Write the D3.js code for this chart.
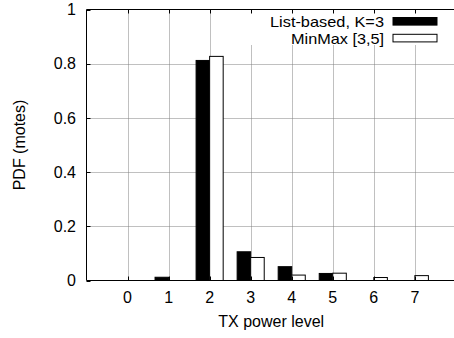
<!DOCTYPE html>
<html>
<head>
<meta charset="utf-8">
<script src="https://cdn.jsdelivr.net/npm/d3@7"></script>
<style>
  html, body { margin: 0; padding: 0; background: #fff; }
  svg { display: block; }
  text { font-family: "Liberation Sans", Arial, Helvetica, sans-serif; font-size: 16px; fill: #000; }
  .key text { font-size: 15px; }
</style>
</head>
<body>
<svg id="chart" width="454" height="338"></svg>
<script>
// TX power levels on the x axis
const levels = [0, 1, 2, 3, 4, 5, 6, 7];
// Fraction of motes at each power level, per scheme
const listBased = [0, 0.012, 0.812, 0.106, 0.051, 0.026, 0, 0];
const minMax    = [0, 0, 0.827, 0.085, 0.020, 0.027, 0.011, 0.018];
const seriesNames = ["List-based, K=3", "MinMax [3,5]"];
const seriesFill = ["#000000", "#ffffff"];
const yTicks = [0, 0.2, 0.4, 0.6, 0.8, 1];
const yTickLabels = ["0", "0.2", "0.4", "0.6", "0.8", "1"];
const xTitle = "TX power level";
const yTitle = "PDF (motes)";

const svg = d3.select("#chart");
const plotL = 86.5, plotT = 9.5, plotB = 280.5, plotR = 455.9;

const x = d3.scaleLinear().domain([-1, 8]).range([plotL, plotR]);
const y = d3.scaleLinear().domain([0, 1]).range([plotB, plotT]);
const barW = 0.33; // in x units

// grid lines
const grid = svg.append("g")
  .attr("stroke", "#808080").attr("stroke-width", 1).attr("stroke-dasharray", "1,1");
grid.selectAll("line.v").data(levels).join("line")
  .attr("class", "v")
  .attr("x1", d => Math.round(x(d)) + 0.5).attr("x2", d => Math.round(x(d)) + 0.5)
  .attr("y1", plotT).attr("y2", plotB);
grid.selectAll("line.h").data(yTicks.filter(d => d > 0 && d < 1)).join("line")
  .attr("class", "h")
  .attr("x1", plotL).attr("x2", plotR)
  .attr("y1", d => Math.round(y(d)) + 0.5).attr("y2", d => Math.round(y(d)) + 0.5);

// key background hides the grid behind it
svg.append("rect")
  .attr("x", 245).attr("y", plotT + 0.5)
  .attr("width", plotR - 245).attr("height", 35)
  .attr("fill", "#fff");

// bars
const series = [listBased, minMax];
series.forEach((vals, si) => {
  svg.append("g").selectAll("rect").data(levels).join("rect")
    .attr("x", d => si === 0 ? x(d - barW) : x(d))
    .attr("width", x(barW) - x(0))
    .attr("y", (d, i) => y(vals[i]))
    .attr("height", (d, i) => y(0) - y(vals[i]))
    .attr("fill", seriesFill[si])
    .attr("stroke", "#000").attr("stroke-width", 1);
});

// border (left, top, bottom)
svg.append("path")
  .attr("d", `M${plotR},${plotT}H${plotL}V${plotB}H${plotR}`)
  .attr("fill", "none").attr("stroke", "#000").attr("stroke-width", 1);

// inward tick marks
const ticks = svg.append("g").attr("stroke", "#000").attr("stroke-width", 1);
levels.forEach(d => {
  const px = Math.round(x(d)) + 0.5;
  ticks.append("line").attr("x1", px).attr("x2", px).attr("y1", plotT).attr("y2", plotT + 4);
  ticks.append("line").attr("x1", px).attr("x2", px).attr("y1", plotB).attr("y2", plotB - 4);
});
yTicks.forEach(d => {
  const py = Math.round(y(d)) + 0.5;
  ticks.append("line").attr("x1", plotL).attr("x2", plotL + 4).attr("y1", py).attr("y2", py);
});

// tick labels
svg.append("g").selectAll("text").data(yTicks).join("text")
  .attr("x", 76).attr("y", d => y(d)).attr("dy", "0.36em")
  .attr("text-anchor", "end")
  .text((d, i) => yTickLabels[i]);
svg.append("g").selectAll("text").data(levels).join("text")
  .attr("x", d => x(d)).attr("y", 303)
  .attr("text-anchor", "middle")
  .text(d => d);

// axis titles
svg.append("text")
  .attr("x", (plotL + plotR) / 2).attr("y", 327)
  .attr("text-anchor", "middle").text(xTitle);
svg.append("text")
  .attr("transform", `translate(25,${(plotT + plotB) / 2}) rotate(-90)`)
  .attr("text-anchor", "middle").text(yTitle);

// key
const key = svg.append("g").attr("class", "key");
const keyWidths = [114, 93];
seriesNames.forEach((name, i) => {
  const cy = 21.3 + i * 16.8;
  key.append("text")
    .attr("x", 384).attr("y", cy).attr("dy", "0.36em")
    .attr("text-anchor", "end")
    .attr("textLength", keyWidths[i]).attr("lengthAdjust", "spacingAndGlyphs")
    .text(name);
  key.append("rect")
    .attr("x", 393).attr("y", cy - 3.8)
    .attr("width", 44).attr("height", 7.6)
    .attr("fill", seriesFill[i])
    .attr("stroke", "#000").attr("stroke-width", 1);
});
</script>
</body>
</html>
